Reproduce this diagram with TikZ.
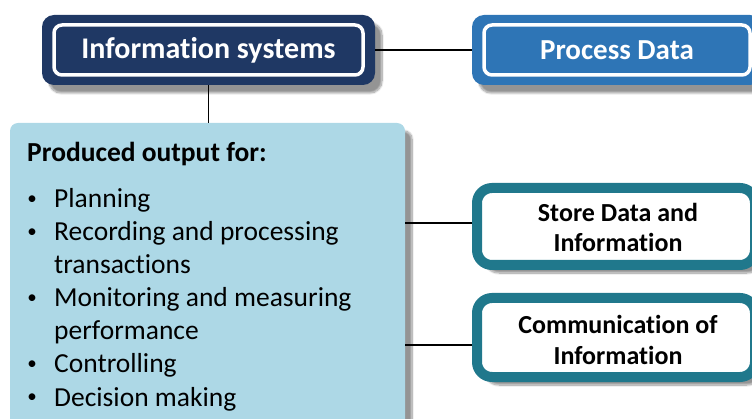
\documentclass[tikz,border=0pt]{standalone}
\usepackage{fontspec}
\setmainfont{Carlito}[Ligatures=NoCommon]
\usetikzlibrary{shadows.blur}
\definecolor{navy}{RGB}{31,56,100}
\definecolor{procblue}{RGB}{46,117,182}
\definecolor{tealc}{RGB}{32,120,140}
\definecolor{paleblue}{RGB}{173,216,230}
\begin{document}
\begin{tikzpicture}[x=1pt,y=-1pt,
  softshadow/.style={blur shadow={shadow xshift=7pt, shadow yshift=-8pt,
      shadow blur steps=10, shadow blur extra rounding=2pt, shadow opacity=42}},
  headbox/.style={rounded corners=12pt, inner sep=0pt, text=white,
      font=\fontsize{30}{30}\selectfont\bfseries, softshadow,
      path picture={\draw[white, line width=3.5pt, rounded corners=8pt]
        ([shift={(12pt,-10pt)}]path picture bounding box.north west) rectangle
        ([shift={(-12pt,10pt)}]path picture bounding box.south east);}},
  tealbox/.style={draw=tealc, line width=10pt, fill=white, rounded corners=15pt,
      inner sep=0pt, minimum width=278pt, softshadow},
  boxtext/.style={anchor=base, inner sep=0pt, font=\fontsize{26}{30}\selectfont\bfseries},
  listtext/.style={anchor=base west, inner sep=0pt, font=\fontsize{27.5}{33}\selectfont},
  bulletmark/.style={anchor=center, inner sep=0pt, yshift=8pt, font=\fontsize{19}{19}\selectfont},
  conn/.style={black, line width=1.5pt}]
\useasboundingbox (0,0) rectangle (752,419);
\clip (0,0) rectangle (752,419);

% top row
\node[headbox, fill=navy, minimum width=333pt, minimum height=70pt] (info) at (208.5,50) {Information systems};
\node[headbox, fill=procblue, font=\fontsize{29}{29}\selectfont\bfseries,
      minimum width=290pt, minimum height=70pt] (proc) at (617,50) {Process Data};

% output panel
\node[fill=paleblue, rounded corners=8pt, minimum width=395pt, minimum height=307pt,
      inner sep=0pt, softshadow] (out) at (207.5,276.5) {};
\node[listtext, font=\fontsize{27.5}{33}\selectfont\bfseries] (head) at (27,162) {Produced output for:};
\node[bulletmark] (b1) at (32,208) {•};
\node[listtext] (t1) at (54,208) {Planning};
\node[bulletmark] (b2) at (32,241) {•};
\node[listtext] (t2a) at (54,241) {Recording and processing};
\node[listtext] (t2b) at (54,274) {transactions};
\node[bulletmark] (b3) at (32,307) {•};
\node[listtext] (t3a) at (54,307) {Monitoring and measuring};
\node[listtext] (t3b) at (54,340) {performance};
\node[bulletmark] (b4) at (32,373) {•};
\node[listtext] (t4) at (54,373) {Controlling};
\node[bulletmark] (b5) at (32,406) {•};
\node[listtext] (t5) at (54,406) {Decision making};

% right column
\node[tealbox, minimum height=77pt] (store) at (616,226.5) {};
\node[boxtext] (storeA) at (618,222) {Store Data and};
\node[boxtext] (storeB) at (618,252) {Information};
\node[tealbox, minimum height=79pt] (comm) at (616,337.5) {};
\node[boxtext] (commA) at (618,334) {Communication of};
\node[boxtext] (commB) at (618,365) {Information};

% connectors
\draw[conn] (info.east) -- (proc.west);
\draw[conn] (info.south) -- (info.south |- out.north);
\draw[conn] ([yshift=3.5pt]store.west) -- ([yshift=3.5pt]store.west -| out.east);
\draw[conn] ([yshift=-7.5pt]comm.west) -- ([yshift=-7.5pt]comm.west -| out.east);
\end{tikzpicture}
\end{document}
